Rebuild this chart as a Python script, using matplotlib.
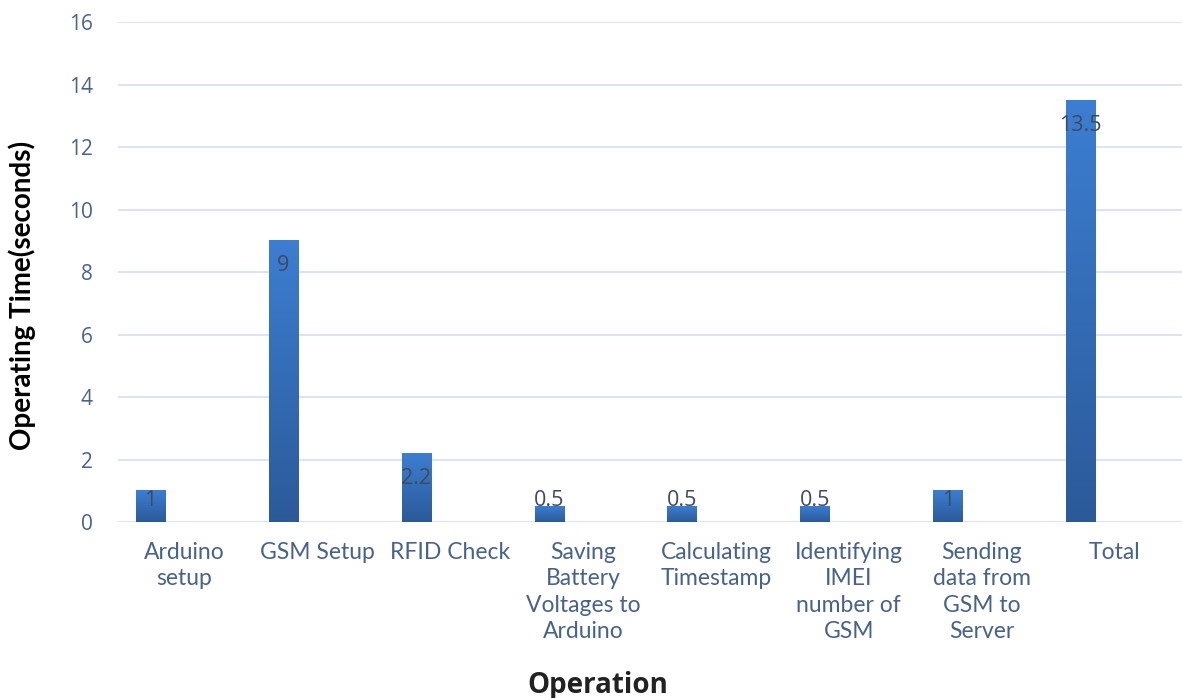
import numpy as np
import matplotlib
matplotlib.use('Agg')
import matplotlib.pyplot as plt
from matplotlib.colors import LinearSegmentedColormap

#Chart data
operations = ['Arduino\nsetup', 'GSM Setup', 'RFID Check',
              'Saving\nBattery\nVoltages to\nArduino', 'Calculating\nTimestamp',
              'Identifying\nIMEI\nnumber of\nGSM', 'Sending\ndata from\nGSM to\nServer', 'Total']
times = [1, 9, 2.2, 0.5, 0.5, 0.5, 1, 13.5]
time_labels = ['1', '9', '2.2', '0.5', '0.5', '0.5', '1', '13.5']
yticks = [0, 2, 4, 6, 8, 10, 12, 14, 16]

tick_color = '#476389'
grid_color = '#d9e2f3'

fig = plt.figure(figsize=(11.82, 6.98), dpi=100)
ax = fig.add_axes([0.0998, 0.252, 0.905, 0.716])

x = np.arange(len(operations))
bars = ax.bar(x - 0.255, times, width=0.22, color='none', zorder=3)

#Gradient fill for each bar (light top, dark bottom)
cmap = LinearSegmentedColormap.from_list('bar', ['#2b5a99', '#3c7ed2'])
grad = np.linspace(0, 1, 256).reshape(-1, 1)
for b in bars:
    x0, w, h = b.get_x(), b.get_width(), b.get_height()
    ax.imshow(grad, cmap=cmap, aspect='auto', origin='lower',
              extent=[x0, x0 + w, 0, h], zorder=3)

#Data labels inside the top of each bar
for b, lab, v in zip(bars, time_labels, times):
    ax.text(b.get_x() + b.get_width() / 2, max(v - 0.8, 0.7), lab,
            ha='center', va='center', fontsize=15.5, color='#3f4a5c',
            family='Open Sans', zorder=4)

ax.set_xlim(-0.5, len(operations) - 0.45)
ax.set_ylim(0, 16)
ax.set_yticks(yticks)
ax.set_xticks(x)
ax.set_xticklabels(operations, fontsize=16.5, color=tick_color, family='Lato',
                   linespacing=1.33, va='top')
ax.tick_params(axis='y', labelsize=15, labelcolor=tick_color, length=0, pad=18)
ax.tick_params(axis='x', length=0, pad=14)
for lab in ax.get_yticklabels():
    lab.set_family('Open Sans')

ax.grid(axis='y', color=grid_color, linewidth=1.3, zorder=0)
for s in ax.spines.values():
    s.set_visible(False)

ax.set_ylabel('Operating Time(seconds)', fontsize=20, fontweight='bold',
              family='Lato', color='black')
ax.yaxis.set_label_coords(-0.077, 0.454)
ax.set_xlabel('Operation', fontsize=20, fontweight='bold', family='Open Sans',
              color='#222222')
ax.xaxis.set_label_coords(0.449, -0.298)

plt.savefig('out.png', dpi=100)
